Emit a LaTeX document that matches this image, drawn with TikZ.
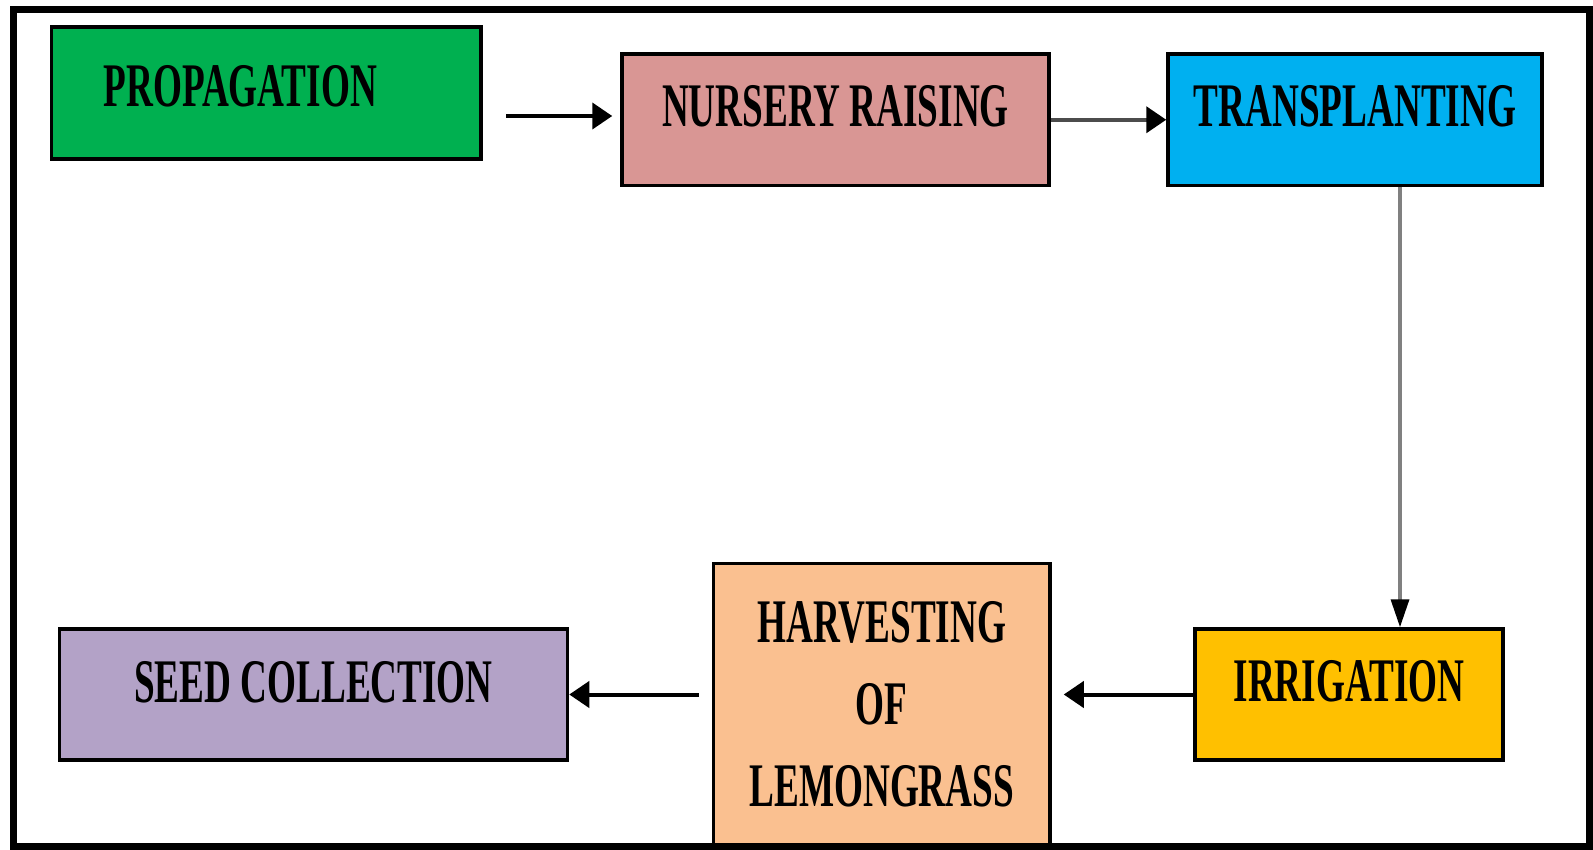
\documentclass[tikz,border=0pt]{standalone}
\usepackage{fontspec}
\setmainfont{Liberation Serif}
\newfontfamily\stagefont{Liberation Serif}[FakeStretch=0.6]
\usetikzlibrary{arrows.meta, positioning}

\definecolor{propgreen}{HTML}{00B050}
\definecolor{nurserypink}{HTML}{D99694}
\definecolor{transpblue}{HTML}{00B0F0}
\definecolor{irriggold}{HTML}{FFC000}
\definecolor{harvpeach}{HTML}{FAC090}
\definecolor{seedlilac}{HTML}{B3A2C7}

\begin{document}
\begin{tikzpicture}[
    x=1pt, y=-1pt,
    stage/.style={rectangle, draw, line width=3.5pt, inner sep=0pt, align=center,
        font=\stagefont\bfseries\fontsize{62}{82}\selectfont},
    arrow/.style={line width=4pt, -{Triangle[length=20pt,width=26pt,color=black]}}
]
    \useasboundingbox (0,0) rectangle (1593,849);

    \node (prop) [stage, fill=propgreen, minimum width=429.5pt, minimum height=132pt,
        text height=79pt, text depth=53pt] at (266.25,93) {PROPAGATION\hspace{52pt}};
    \node (nursery) [stage, fill=nurserypink, minimum width=427pt, minimum height=131.5pt,
        text height=72pt, text depth=59.5pt] at (835.5,119.75) {NURSERY RAISING};
    \node (transp) [stage, fill=transpblue, minimum width=374pt, minimum height=131.5pt,
        text height=72pt, text depth=59.5pt] at (1355,119.75) {TRANSPLANTING};
    \node (irrig) [stage, fill=irriggold, minimum width=308pt, minimum height=131pt,
        text height=72pt, text depth=59pt] at (1349,694.5) {IRRIGATION};
    \node (harv) [stage, fill=harvpeach, minimum width=336.5pt, minimum height=282.5pt]
        at (881.75,704.75) {HARVESTING\\OF\\LEMONGRASS};
    \node (seed) [stage, fill=seedlilac, minimum width=508pt, minimum height=131pt,
        text height=73pt, text depth=58pt] at (313.5,694.5) {SEED COLLECTION};

    \coordinate (propout) at (506,116);
    \coordinate (vline) at (1400,0);

    \draw [arrow, shorten >=8pt] (propout) -- (propout -| nursery.west);
    \draw [arrow, draw=black!70] (nursery.east) -- (transp.west);
    \draw [line width=3.5pt, draw=black!50, -{Triangle[length=28pt,width=18pt,color=black]}]
        (transp.south -| vline) -- (irrig.north -| vline);
    \draw [arrow, shorten >=12pt] (irrig.west) -- (irrig.west -| harv.east);
    \draw [arrow, shorten <=13pt] (harv.west |- seed.east) -- (seed.east);

    % outer frame
    \draw [line width=7pt] (13,9) rectangle (1589,846);
\end{tikzpicture}
\end{document}
